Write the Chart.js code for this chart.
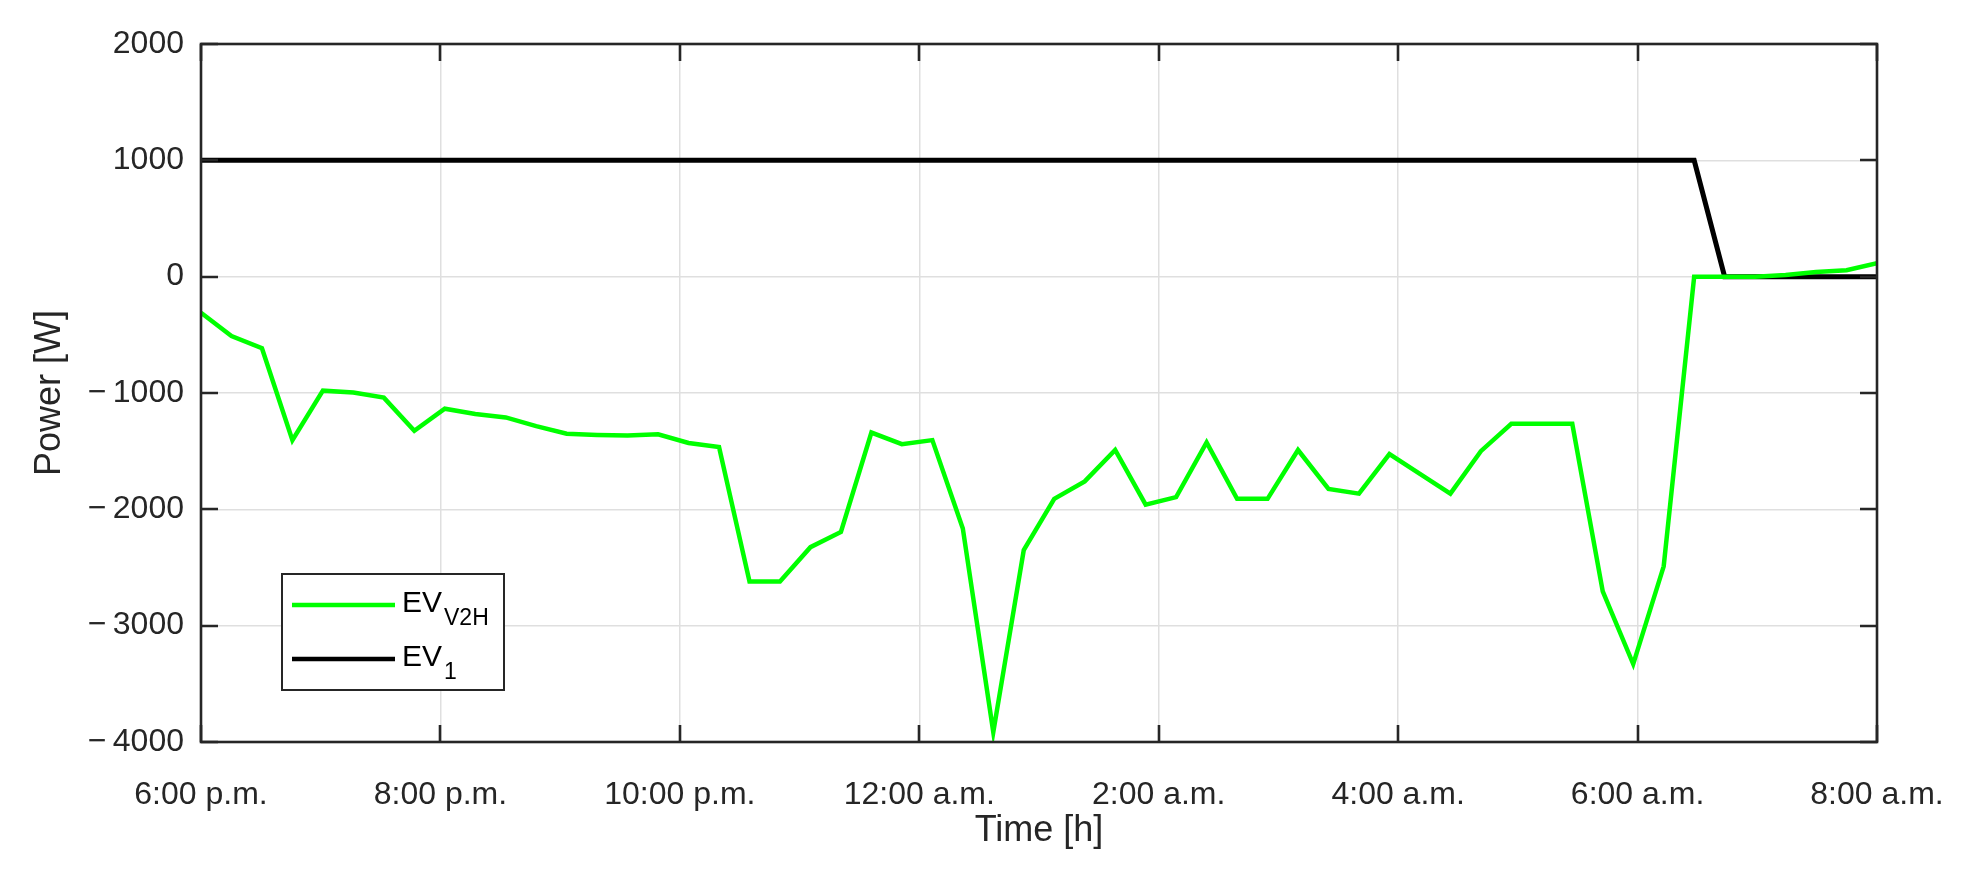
<!DOCTYPE html>
<html>
<head>
<meta charset="utf-8">
<title>EV power</title>
<script src="https://cdn.jsdelivr.net/npm/chart.js@4.4.1/dist/chart.umd.min.js"></script>
<style>
  html, body { margin: 0; padding: 0; background: #fff; }
  #wrap { width: 1963px; height: 872px; position: relative; }
</style>
</head>
<body>
<div id="wrap"><canvas id="powerChart"></canvas></div>
<script>
// x tick labels, one every 2 hours from 6 p.m. to 8 a.m.
const timeLabels = ['6:00 p.m.', '8:00 p.m.', '10:00 p.m.', '12:00 a.m.', '2:00 a.m.', '4:00 a.m.', '6:00 a.m.', '8:00 a.m.'];

// series, 56 samples over the 14 h window
const evV2H = [
  -310, -510, -615, -1405, -980, -995, -1040, -1325, -1135, -1180,
  -1210, -1285, -1350, -1360, -1365, -1355, -1430, -1465, -2620, -2620,
  -2325, -2195, -1340, -1440, -1405, -2165, -3915, -2350, -1910, -1760,
  -1490, -1960, -1895, -1425, -1910, -1910, -1490, -1825, -1865, -1525,
  -1695, -1865, -1500, -1265, -1265, -1265, -2705, -3330, -2490, 0,
  0, 0, 15, 40, 55, 115
];
const ev1 = [
  1000, 1000, 1000, 1000, 1000, 1000, 1000, 1000, 1000, 1000,
  1000, 1000, 1000, 1000, 1000, 1000, 1000, 1000, 1000, 1000,
  1000, 1000, 1000, 1000, 1000, 1000, 1000, 1000, 1000, 1000,
  1000, 1000, 1000, 1000, 1000, 1000, 1000, 1000, 1000, 1000,
  1000, 1000, 1000, 1000, 1000, 1000, 1000, 1000, 1000, 1000,
  0, 0, 0, 0, 0, 0
];

const spanHours = 14;
const stepH = spanHours / (evV2H.length - 1);
const toPoints = arr => arr.map((v, i) => ({ x: i * stepH, y: v }));

const FONT = "'Liberation Sans', Arial, Helvetica, sans-serif";
const AXIS = '#262626';
const TICK = 17;

const boxPlugin = {
  id: 'matlabBox',
  afterDatasetsDraw(chart) {
    const { ctx, chartArea: a, scales } = chart;
    ctx.save();
    ctx.strokeStyle = AXIS;
    ctx.lineWidth = 2.6;
    ctx.beginPath();
    scales.x.ticks.forEach(t => {
      const px = Math.round(scales.x.getPixelForValue(t.value));
      ctx.moveTo(px, a.bottom); ctx.lineTo(px, a.bottom - TICK);
      ctx.moveTo(px, a.top);    ctx.lineTo(px, a.top + TICK);
    });
    scales.y.ticks.forEach(t => {
      const py = Math.round(scales.y.getPixelForValue(t.value));
      ctx.moveTo(a.left, py);  ctx.lineTo(a.left + TICK, py);
      ctx.moveTo(a.right, py); ctx.lineTo(a.right - TICK, py);
    });
    ctx.stroke();
    ctx.strokeRect(a.left, a.top, a.right - a.left, a.bottom - a.top);
    ctx.restore();
  },
  afterDraw(chart) {
    // legend with subscripts
    const { ctx, chartArea: a } = chart;
    const bx = a.left + 81, by = a.top + 530, bw = 222, bh = 116;
    ctx.save();
    ctx.fillStyle = '#fff';
    ctx.fillRect(bx, by, bw, bh);
    ctx.strokeStyle = AXIS;
    ctx.lineWidth = 2;
    ctx.strokeRect(bx, by, bw, bh);

    const rows = [
      { color: '#00ff00', main: 'EV', sub: 'V2H', ly: by + 31 },
      { color: '#000000', main: 'EV', sub: '1',   ly: by + 85 }
    ];
    rows.forEach(r => {
      ctx.strokeStyle = r.color;
      ctx.lineWidth = 4.5;
      ctx.beginPath();
      ctx.moveTo(bx + 10, r.ly);
      ctx.lineTo(bx + 113, r.ly);
      ctx.stroke();
      ctx.fillStyle = '#000';
      ctx.textBaseline = 'alphabetic';
      ctx.textAlign = 'left';
      ctx.font = '30px ' + FONT;
      const base = r.ly + 7;
      ctx.fillText(r.main, bx + 120, base);
      const w = ctx.measureText(r.main).width;
      ctx.font = '23px ' + FONT;
      ctx.fillText(r.sub, bx + 120 + w + 2, base + 13);
    });
    ctx.restore();
  }
};

new Chart(document.getElementById('powerChart'), {
  type: 'line',
  data: {
    datasets: [
      {
        label: 'EV V2H',
        data: toPoints(evV2H),
        borderColor: '#00ff00',
        borderWidth: 4.5,
        pointRadius: 0,
        tension: 0,
        fill: false
      },
      {
        label: 'EV 1',
        data: toPoints(ev1),
        borderColor: '#000000',
        borderWidth: 5,
        pointRadius: 0,
        tension: 0,
        fill: false
      }
    ]
  },
  options: {
    responsive: true,
    maintainAspectRatio: false,
    animation: false,
    layout: { padding: { left: 0, right: 86, top: 44, bottom: 0 } },
    plugins: {
      legend: { display: false },
      tooltip: { enabled: false }
    },
    scales: {
      x: {
        type: 'linear',
        min: 0,
        max: spanHours,
        afterFit: s => { s.height = 130; s.paddingLeft = 0; s.paddingRight = 0; },
        afterBuildTicks: s => { s.ticks = timeLabels.map((_, i) => ({ value: i * 2 })); },
        ticks: {
          autoSkip: false,
          maxRotation: 0,
          padding: 34,
          color: AXIS,
          font: { family: FONT, size: 32 },
          callback: v => timeLabels[Math.round(v / 2)]
        },
        grid: { color: '#dfdfdf', lineWidth: 1.5, drawTicks: false },
        border: { display: false },
        title: {
          display: true,
          text: 'Time [h]',
          color: AXIS,
          font: { family: FONT, size: 36 },
          padding: { top: 0, bottom: 19 }
        }
      },
      y: {
        min: -4000,
        max: 2000,
        afterFit: s => { s.width = 201; s.paddingTop = 0; s.paddingBottom = 0; },
        ticks: {
          stepSize: 1000,
          padding: 17,
          color: AXIS,
          font: { family: FONT, size: 32 },
          callback: v => v < 0 ? '\u2212\u2009' + Math.abs(v) : String(v)
        },
        grid: { color: '#dfdfdf', lineWidth: 1.5, drawTicks: false },
        border: { display: false },
        title: {
          display: true,
          text: 'Power [W]',
          color: AXIS,
          font: { family: FONT, size: 36 },
          padding: { top: 28, bottom: 0 }
        }
      }
    }
  },
  plugins: [boxPlugin]
});
</script>
</body>
</html>
